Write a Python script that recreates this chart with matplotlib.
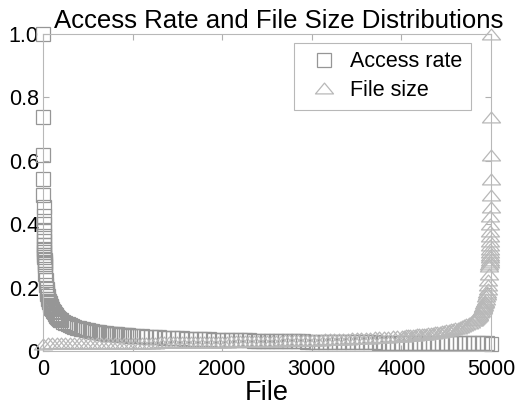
import matplotlib
matplotlib.use("Agg")
import matplotlib.pyplot as plt
from matplotlib.path import Path

plt.rcParams['font.family'] = ['Liberation Sans', 'DejaVu Sans']

access_files = (list(range(1, 21)) + list(range(25, 101, 5)) + list(range(110, 201, 10))
                + list(range(225, 1001, 25)) + list(range(1050, 5001, 50)))
access_rate = [
    1.0, 0.737, 0.617, 0.543, 0.493, 0.455, 0.425, 0.401, 0.380, 0.363,
    0.348, 0.335, 0.323, 0.313, 0.304, 0.295, 0.288, 0.280, 0.274, 0.268,
    0.243, 0.224, 0.209, 0.197, 0.187, 0.179, 0.172, 0.165, 0.159, 0.154,
    0.150, 0.145, 0.142, 0.138, 0.135, 0.132,
    0.126, 0.122, 0.118, 0.114, 0.110, 0.107, 0.104, 0.102, 0.099, 0.097,
    0.0923, 0.0881, 0.0845, 0.0813, 0.0785, 0.0760, 0.0737, 0.0716, 0.0697, 0.0680,
    0.0664, 0.0649, 0.0635, 0.0622, 0.0610, 0.0599, 0.0589, 0.0578, 0.0569, 0.0560,
    0.0551, 0.0543, 0.0535, 0.0528, 0.0521, 0.0514, 0.0508, 0.0501, 0.0495, 0.0490,
    0.0484, 0.0479,
    0.0468, 0.0459, 0.0450, 0.0442, 0.0434, 0.0426, 0.0419, 0.0413, 0.0406, 0.0400,
    0.0395, 0.0389, 0.0384, 0.0379, 0.0374, 0.0370, 0.0365, 0.0361, 0.0357, 0.0353,
    0.0349, 0.0345, 0.0342, 0.0338, 0.0335, 0.0332, 0.0329, 0.0326, 0.0323, 0.0320,
    0.0317, 0.0314, 0.0312, 0.0309, 0.0307, 0.0304, 0.0302, 0.0300, 0.0297, 0.0295,
    0.0293, 0.0291, 0.0289, 0.0287, 0.0285, 0.0283, 0.0281, 0.0279, 0.0278, 0.0276,
    0.0274, 0.0272, 0.0271, 0.0269, 0.0268, 0.0266, 0.0265, 0.0263, 0.0262, 0.0260,
    0.0259, 0.0257, 0.0256, 0.0255, 0.0253, 0.0252, 0.0251, 0.0249, 0.0248, 0.0247,
    0.0246, 0.0245, 0.0243, 0.0242, 0.0241, 0.0240, 0.0239, 0.0238, 0.0237, 0.0236]

# file size (flat, then rising sharply at the right end)
size_files = (list(range(1, 4001, 50)) + list(range(4001, 4777, 25)) + list(range(4801, 4892, 10))
              + list(range(4901, 4977, 5)) + list(range(4981, 5001)))
file_size = [
    0.0236, 0.0237, 0.0238, 0.0239, 0.0240, 0.0241, 0.0242, 0.0243, 0.0245, 0.0246,
    0.0247, 0.0248, 0.0249, 0.0251, 0.0252, 0.0253, 0.0255, 0.0256, 0.0257, 0.0259,
    0.0260, 0.0262, 0.0263, 0.0265, 0.0266, 0.0268, 0.0269, 0.0271, 0.0272, 0.0274,
    0.0276, 0.0278, 0.0279, 0.0281, 0.0283, 0.0285, 0.0287, 0.0289, 0.0291, 0.0293,
    0.0295, 0.0297, 0.0300, 0.0302, 0.0304, 0.0307, 0.0309, 0.0312, 0.0314, 0.0317,
    0.0320, 0.0323, 0.0326, 0.0329, 0.0332, 0.0335, 0.0338, 0.0342, 0.0345, 0.0349,
    0.0353, 0.0357, 0.0361, 0.0365, 0.0370, 0.0374, 0.0379, 0.0384, 0.0389, 0.0395,
    0.0400, 0.0406, 0.0413, 0.0419, 0.0426, 0.0434, 0.0442, 0.0450, 0.0459, 0.0468,
    0.0479, 0.0484, 0.0490, 0.0495, 0.0501, 0.0508, 0.0514, 0.0521, 0.0528, 0.0535,
    0.0543, 0.0551, 0.0560, 0.0569, 0.0578, 0.0589, 0.0599, 0.0610, 0.0622, 0.0635,
    0.0649, 0.0664, 0.0680, 0.0697, 0.0716, 0.0737, 0.0760, 0.0785, 0.0813, 0.0845,
    0.0881, 0.0923,
    0.097, 0.099, 0.102, 0.104, 0.107, 0.110, 0.114, 0.118, 0.122, 0.126,
    0.132, 0.135, 0.138, 0.142, 0.145, 0.150, 0.154, 0.159, 0.165, 0.172,
    0.179, 0.187, 0.197, 0.209, 0.224, 0.243,
    0.268, 0.274, 0.280, 0.288, 0.295, 0.304, 0.313, 0.323, 0.335, 0.348,
    0.363, 0.380, 0.401, 0.425, 0.455, 0.493, 0.543, 0.617, 0.737, 1.0]

y_ticks = [0, 0.2, 0.4, 0.6, 0.8, 1.0]
y_tick_labels = ['0', '0.2', '0.4', '0.6', '0.8', '1.0']
x_ticks = [0, 1000, 2000, 3000, 4000, 5000]

# wide, flat triangle like the MATLAB one
tri = Path([(-1.0, -0.6), (1.0, -0.6), (0.0, 0.6), (-1.0, -0.6)],
           [Path.MOVETO, Path.LINETO, Path.LINETO, Path.CLOSEPOLY])

fig = plt.figure(figsize=(5.16, 4.07), dpi=100)
ax = fig.add_axes([0.0833, 0.1376, 0.8683, 0.7789])

ax.plot(access_files, access_rate, linestyle='none', marker='s', markersize=10,
        markerfacecolor='none', markeredgecolor='#969696', markeredgewidth=0.9,
        clip_on=False, label='Access rate')
ax.plot(size_files, file_size, linestyle='none', marker=tri, markersize=13,
        markerfacecolor='none', markeredgecolor='#b8b8b8', markeredgewidth=0.9,
        clip_on=False, label='File size')

ax.set_xlim(0, 5000)
ax.set_ylim(0, 1.0)
ax.set_xticks(x_ticks)
ax.set_yticks(y_ticks)
ax.set_yticklabels(y_tick_labels)
ax.tick_params(direction='in', length=4, width=0.8, color='#b0b0b0',
               top=True, right=True, labelsize=15.5)
ax.tick_params(axis='y', pad=3)
ax.tick_params(axis='x', pad=6)
for s in ax.spines.values():
    s.set_color('#b8b8b8')
    s.set_linewidth(0.8)

ax.set_title('Access Rate and File Size Distributions', fontsize=18.5, pad=4, x=0.527)
ax.set_xlabel('File', fontsize=19.5, labelpad=0)

leg = ax.legend(loc='upper right', bbox_to_anchor=(0.955, 0.972), borderaxespad=0,
                fontsize=15.5, fancybox=False, framealpha=1, edgecolor='#b8b8b8',
                handlelength=2.0, handletextpad=0.2, borderpad=0.4, labelspacing=0.35)
leg.get_frame().set_linewidth(0.8)

fig.savefig('out.png', dpi=100)
